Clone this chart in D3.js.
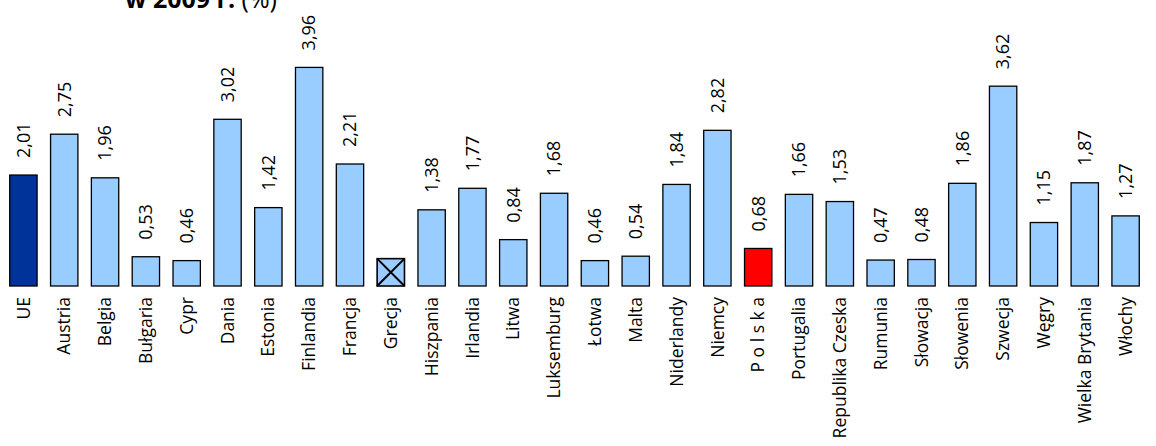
<!DOCTYPE html>
<html>
<head>
<meta charset="utf-8">
<script src="https://cdn.jsdelivr.net/npm/d3@7"></script>
<style>
    body { margin: 0; background: #fff; }
    #chart { width: 1156px; height: 446px; }
    text { font-family: "Open Sans", sans-serif; fill: #000; }
</style>
</head>
<body>
<div id="chart"></div>
<script>
// data (Grecja: no data)
let categories = ["UE", "Austria", "Belgia", "Bułgaria", "Cypr", "Dania", "Estonia", "Finlandia", "Francja",
    "Grecja", "Hiszpania", "Irlandia", "Litwa", "Luksemburg", "Łotwa", "Malta", "Niderlandy", "Niemcy",
    "P o l s k a", "Portugalia", "Republika Czeska", "Rumunia", "Słowacja", "Słowenia", "Szwecja", "Węgry",
    "Wielka Brytania", "Włochy"];
let values = [2.01, 2.75, 1.96, 0.53, 0.46, 3.02, 1.42, 3.96, 2.21,
    null, 1.38, 1.77, 0.84, 1.68, 0.46, 0.54, 1.84, 2.82,
    0.68, 1.66, 1.53, 0.47, 0.48, 1.86, 3.62, 1.15,
    1.87, 1.27];
let titleBold = "w 2009 r.";
let titleRest = " (%)";

class BarVis {

    constructor(parentElement) {
        this.parentElement = parentElement;
        this.initVis();
    }

    initVis() {
        let vis = this;

        vis.width = 1156;
        vis.height = 446;
        vis.baseline = 286;

        vis.svg = d3.select("#" + vis.parentElement).append("svg")
            .attr("width", vis.width)
            .attr("height", vis.height);

        vis.x = d3.scaleBand()
            .domain(categories)
            .range([3, 1146])
            .paddingInner(0.33)
            .paddingOuter(0.165);

        vis.y = d3.scaleLinear()
            .domain([0, 4])
            .range([vis.baseline, vis.baseline - 220.8]);

        // title (its first line sits above the visible area, as in the original)
        let title = vis.svg.append("text")
            .attr("x", 125)
            .attr("y", 8)
            .style("font-size", "25px");
        title.append("tspan").style("font-weight", "bold").text(titleBold);
        title.append("tspan").text(titleRest);

        vis.wrangleData();
    }

    wrangleData() {
        let vis = this;
        vis.data = categories.map((c, i) => ({cat: c, val: values[i]}));
        vis.updateVis();
    }

    colour(d) {
        if (d.cat === "UE") return "#003399";
        if (d.cat === "P o l s k a") return "#ff0000";
        return "#99ccff";
    }

    updateVis() {
        let vis = this;
        let bw = vis.x.bandwidth();
        let withVal = vis.data.filter(d => d.val !== null);
        let noVal = vis.data.filter(d => d.val === null);

        vis.svg.selectAll(".bar").data(withVal)
            .enter().append("rect")
            .attr("class", "bar")
            .attr("x", d => vis.x(d.cat))
            .attr("y", d => vis.y(d.val))
            .attr("width", bw)
            .attr("height", d => vis.baseline - vis.y(d.val))
            .attr("fill", d => vis.colour(d))
            .attr("stroke", "#000")
            .attr("stroke-width", 1.3);

        // "no data" marker: crossed box
        let nd = vis.svg.selectAll(".nodata").data(noVal)
            .enter().append("g")
            .attr("class", "nodata")
            .attr("transform", d => "translate(" + vis.x(d.cat) + "," + (vis.baseline - bw) + ")");
        nd.append("rect")
            .attr("width", bw)
            .attr("height", bw)
            .attr("fill", "#99ccff")
            .attr("stroke", "#000")
            .attr("stroke-width", 1.6);
        nd.append("path")
            .attr("d", "M0,0L" + bw + "," + bw + "M" + bw + ",0L0," + bw)
            .attr("stroke", "#000")
            .attr("stroke-width", 2);

        // value labels
        vis.svg.selectAll(".val").data(withVal)
            .enter().append("text")
            .attr("class", "val")
            .attr("transform", d => "translate(" + (vis.x(d.cat) + bw / 2) + "," + (vis.y(d.val) - 17) + ") rotate(-90)")
            .attr("dy", "0.35em")
            .attr("text-anchor", "start")
            .style("font-size", "18px")
            .text(d => d3.format(".2f")(d.val).replace(".", ","));

        // category labels
        vis.svg.selectAll(".cat").data(vis.data)
            .enter().append("text")
            .attr("class", "cat")
            .attr("transform", d => "translate(" + (vis.x(d.cat) + bw / 2) + "," + (vis.baseline + 11) + ") rotate(-90)")
            .attr("dy", "0.35em")
            .attr("text-anchor", "end")
            .style("font-size", "17.5px")
            .text(d => d.cat);
    }
}

new BarVis("chart");
</script>
</body>
</html>
